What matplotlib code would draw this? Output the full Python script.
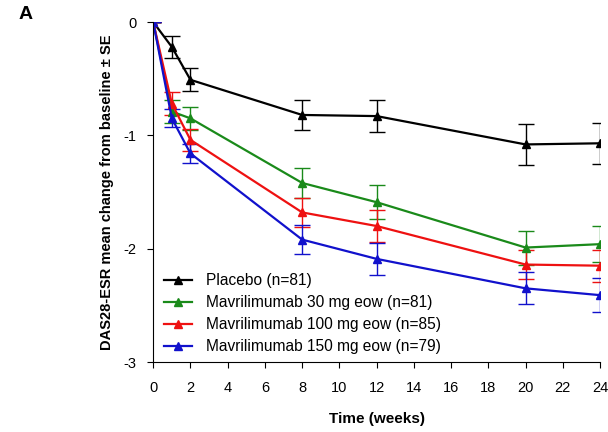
import numpy as np
import matplotlib.pyplot as plt
from matplotlib.lines import Line2D

plt.rcParams['font.family'] = ['Liberation Sans', 'DejaVu Sans']

weeks = [0, 1, 2, 8, 12, 20, 24]

placebo = [0, -0.22, -0.51, -0.82, -0.83, -1.08, -1.07]
placebo_se = [0, 0.10, 0.10, 0.13, 0.14, 0.18, 0.18]

mav30 = [0, -0.79, -0.85, -1.42, -1.59, -1.99, -1.96]
mav30_se = [0, 0.10, 0.10, 0.13, 0.15, 0.15, 0.16]

mav100 = [0, -0.72, -1.04, -1.68, -1.80, -2.14, -2.15]
mav100_se = [0, 0.10, 0.10, 0.13, 0.14, 0.13, 0.14]

mav150 = [0, -0.85, -1.16, -1.92, -2.09, -2.35, -2.41]
mav150_se = [0, 0.08, 0.08, 0.13, 0.14, 0.14, 0.15]

labels = ['Placebo (n=81)', 'Mavrilimumab 30 mg eow (n=81)',
          'Mavrilimumab 100 mg eow (n=85)', 'Mavrilimumab 150 mg eow (n=79)']
colors = ['black', '#1a8a1a', '#ee1111', '#1111cc']

fig = plt.figure(figsize=(6.08, 4.32), dpi=100)
ax = fig.add_axes([0.252, 0.162, 0.735, 0.787])

series = [(placebo, placebo_se), (mav30, mav30_se), (mav100, mav100_se), (mav150, mav150_se)]
handles = []
for (vals, se), lab, c in zip(series, labels, colors):
    ax.errorbar(weeks, vals, yerr=se, color=c, ecolor=c, elinewidth=1.0,
                capsize=5.5, capthick=1.0, lw=1.6, marker='^', ms=6)
    handles.append(Line2D([], [], color=c, lw=1.6, marker='^', ms=6, label=lab))

ax.set_xlim(0, 24)
ax.set_ylim(-3, 0)
ax.set_xticks(np.arange(0, 25, 2))
ax.set_yticks([-3, -2, -1, 0])
ax.set_yticklabels(['-3', '-2', '-1', '0'])
ax.spines['top'].set_visible(False)
ax.spines['right'].set_visible(False)
ax.tick_params(direction='out', length=4, labelsize=10.5)
ax.tick_params(axis='x', pad=10)
ax.tick_params(axis='y', pad=8)
ax.set_xlabel('Time (weeks)', fontweight='bold', fontsize=11, labelpad=12)
ax.set_ylabel('DAS28-ESR mean change from baseline \u00b1 SE', fontweight='bold',
              fontsize=10.5, labelpad=7)

ax.legend(handles=handles, loc='lower left', frameon=False, fontsize=11.2,
          handlelength=1.8, handletextpad=0.9, labelspacing=0.45,
          borderaxespad=0.0, bbox_to_anchor=(0.01, 0.005))

fig.text(0.03, 0.955, 'A', fontweight='bold', fontsize=14)

fig.savefig('out.png', dpi=100)
